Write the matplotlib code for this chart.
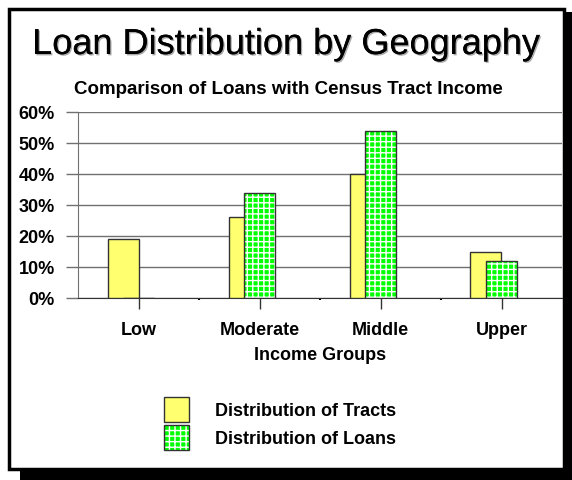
import matplotlib
matplotlib.use("Agg")
import matplotlib.pyplot as plt
import matplotlib.patheffects as pe
from matplotlib.patches import Rectangle
from matplotlib.legend_handler import HandlerTuple
from matplotlib.ticker import FuncFormatter, FixedLocator

groupes = ["Low", "Moderate", "Middle", "Upper"]
tracts = [0.19, 0.26, 0.40, 0.15]
loans = [0.0, 0.34, 0.54, 0.12]
graduations = [0, 0.1, 0.2, 0.3, 0.4, 0.5, 0.6]

plt.rcParams["font.family"] = ["Liberation Sans", "DejaVu Sans"]
plt.rcParams["hatch.color"] = "white"
plt.rcParams["hatch.linewidth"] = 1.0

W, H = 572, 481
fig = plt.figure(figsize=(W / 100, H / 100), dpi=100)
fig.patch.set_facecolor("white")

# cadre avec ombre noire
ombre = Rectangle((20 / W, 0), 1 - 20 / W, 1 - 13 / H, transform=fig.transFigure,
                  facecolor="black", edgecolor="none", zorder=0)
cadre = Rectangle((9 / W, 1 - 469.5 / H), (563.5 - 9) / W, (469.5 - 10) / H,
                  transform=fig.transFigure, facecolor="white", edgecolor="black",
                  linewidth=2.5, zorder=1)
fig.patches.extend([ombre, cadre])

ax = fig.add_axes([78 / W, 1 - 299 / H, (562 - 78) / W, (299 - 113) / H])
ax.set_zorder(2)
ax.patch.set_alpha(0)

largeur = 31 / 121
pos = list(range(len(groupes)))
pos_tracts = [p - 15.5 / 121 for p in pos]

jaune = "#FFFF70"
vert = "#00FF00"

b1 = ax.bar(pos_tracts, tracts, width=largeur, color=jaune, edgecolor="#333333",
            linewidth=1, zorder=3)
b2 = ax.bar(pos, loans, width=largeur, color=vert, hatch="+++", linewidth=0, zorder=4)
b3 = ax.bar(pos, loans, width=largeur, fill=False, edgecolor="#333333", linewidth=1, zorder=5)

ax.set_xlim(-0.5, 3.5)
ax.set_ylim(0, 0.6)
ax.set_yticks(graduations)
ax.yaxis.set_major_formatter(FuncFormatter(lambda v, p: "%d%%" % round(v * 100)))
ax.grid(axis="y", color="#707070", linewidth=1, zorder=1)
ax.tick_params(axis="y", length=8.6, width=1, color="#707070", pad=8,
               labelsize=13)
for lab in ax.get_yticklabels():
    lab.set_fontweight("bold")

ax.set_xticks(pos)
ax.set_xticklabels(groupes, fontsize=13, fontweight="bold")
ax.xaxis.set_minor_locator(FixedLocator([0.5, 1.5, 2.5]))
ax.tick_params(axis="x", which="major", length=8, width=1, color="#333333", pad=8.5)
ax.tick_params(axis="x", which="minor", length=1.5, width=1.5, color="black")
ax.set_xlabel("Income Groups", fontsize=13, fontweight="bold", labelpad=6)

for cote in ["top", "right"]:
    ax.spines[cote].set_visible(False)
ax.spines["left"].set_color("#707070")
ax.spines["bottom"].set_color("#333333")

titre = fig.text(286 / W, 1 - 55 / H, "Loan Distribution by Geography", ha="center",
                 va="baseline", fontsize=26, zorder=3)
titre.set_path_effects([pe.withSimplePatchShadow(offset=(1, -1), shadow_rgbFace="#888888",
                                                 alpha=0.7), pe.Normal()])
fig.text(288 / W, 1 - 94 / H, "Comparison of Loans with Census Tract Income",
         ha="center", va="baseline", fontsize=13.5, fontweight="bold", zorder=3)

leg = ax.legend([b1, (b2, b3)], ["Distribution of Tracts", "Distribution of Loans"],
                handler_map={tuple: HandlerTuple(ndivide=1)},
                loc="upper left", bbox_to_anchor=(164 / W, 1 - 398 / H),
                bbox_transform=fig.transFigure, frameon=False, borderpad=0,
                borderaxespad=0, handlelength=1.4, handleheight=1.75,
                handletextpad=1.4, labelspacing=0.15,
                prop={"size": 13, "weight": "bold"})

fig.savefig("out.png", dpi=100)
